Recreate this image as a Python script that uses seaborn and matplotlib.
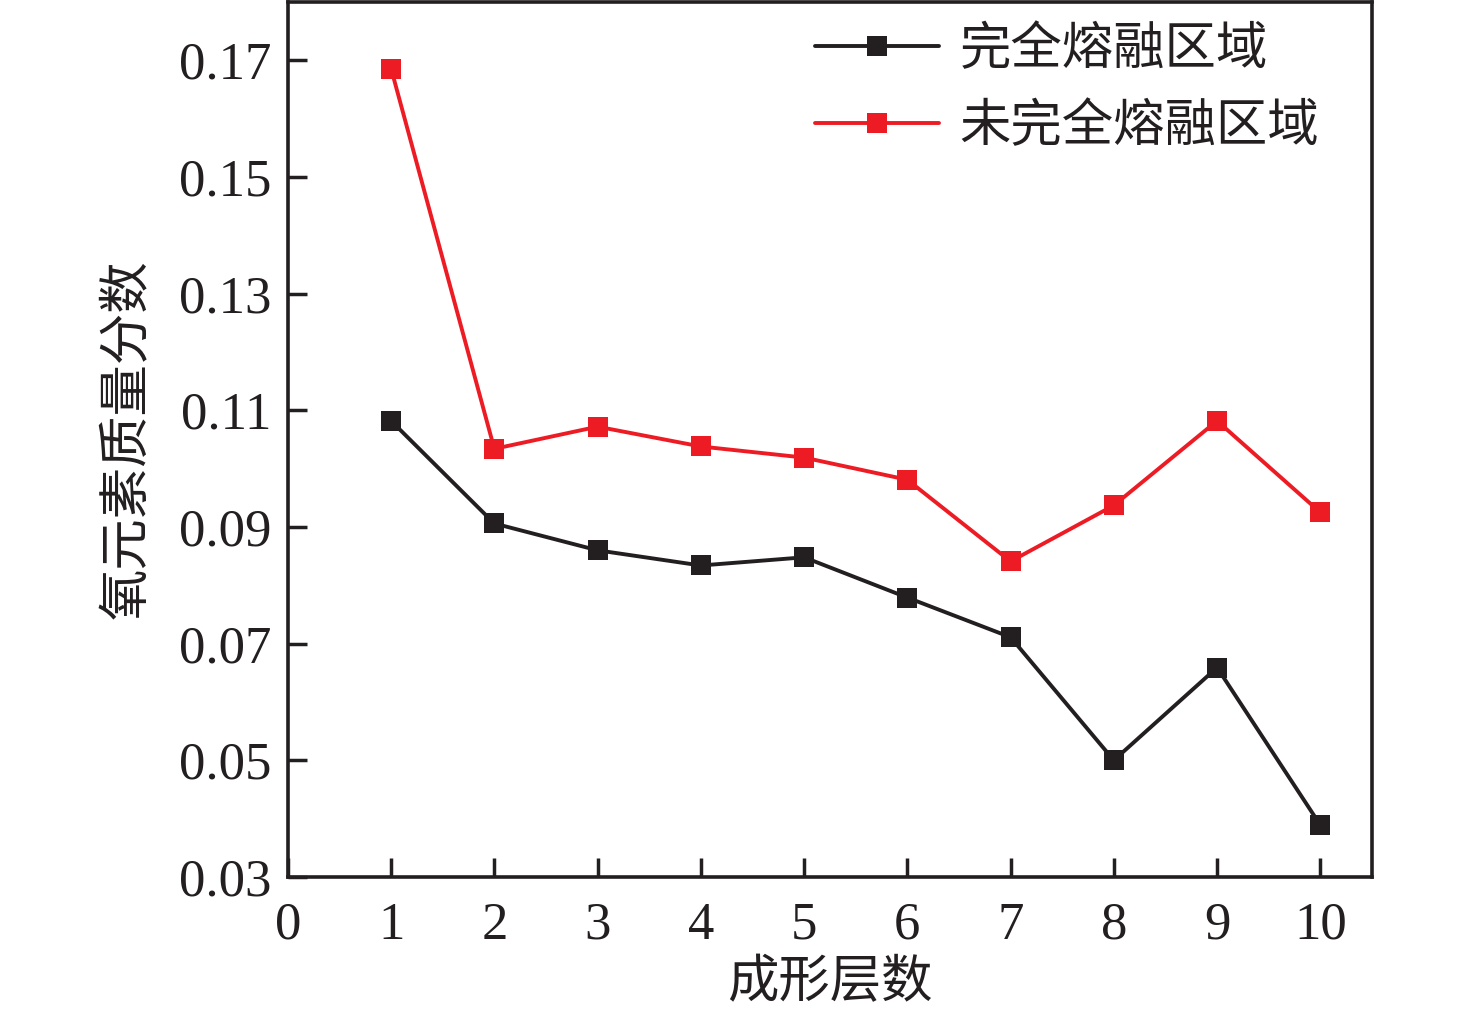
import pandas as pd
import seaborn as sns
import matplotlib.pyplot as plt

# layer numbers and oxygen mass fraction
layers = [1, 2, 3, 4, 5, 6, 7, 8, 9, 10]
full_melt = [0.1082, 0.0906, 0.0860, 0.0834, 0.0848, 0.0779, 0.0711, 0.0500, 0.0659, 0.0389]
partial_melt = [0.1686, 0.1034, 0.1072, 0.1038, 0.1019, 0.0981, 0.0841, 0.0937, 0.1082, 0.0925]
series_names = ["完全熔融区域", "未完全熔融区域"]

df = pd.DataFrame({
    "layer": layers * 2,
    "oxygen": full_melt + partial_melt,
    "region": [series_names[0]] * len(layers) + [series_names[1]] * len(layers),
})

sns.set_style("ticks")
plt.rcParams["font.family"] = ["Liberation Serif", "Noto Sans CJK SC"]
cjk = ["Noto Sans CJK SC", "Liberation Serif"]

fig = plt.figure(figsize=(14.76, 10.15), dpi=100)
ax = fig.add_axes([0.195, 0.136, 0.7345, 0.862])

sns.lineplot(data=df, x="layer", y="oxygen", hue="region", style="region",
             palette=["#231f20", "#ed1c24"], markers=["s", "s"], dashes=False,
             markersize=14, linewidth=2.8, markeredgewidth=0, ax=ax)

ax.set_xlim(0, 10.5)
ax.set_ylim(0.03, 0.18)
ax.set_xticks(range(0, 11))
ax.set_yticks([0.03, 0.05, 0.07, 0.09, 0.11, 0.13, 0.15, 0.17])
ax.set_yticklabels(["0.03", "0.05", "0.07", "0.09", "0.11", "0.13", "0.15", "0.17"])
ax.tick_params(direction="in", length=14, width=2.5, labelsize=38, colors="#231f20")
ax.tick_params(axis="x", pad=18)
ax.tick_params(axis="y", pad=12)
for s in ax.spines.values():
    s.set_linewidth(2.6)
    s.set_color("#231f20")

ax.set_xlabel("成形层数", fontsize=37, family=cjk, labelpad=4, color="#231f20")
ax.set_ylabel("氧元素质量分数", fontsize=37, family=cjk, labelpad=18, color="#231f20")

leg = ax.legend(loc="upper right", frameon=False, prop={"family": cjk, "size": 37},
                handlelength=2.4, handletextpad=0.4, labelspacing=0.45,
                borderaxespad=0.0, bbox_to_anchor=(0.97, 1.0))
for t in leg.get_texts():
    t.set_color("#231f20")

fig.savefig("out.png", dpi=100)
